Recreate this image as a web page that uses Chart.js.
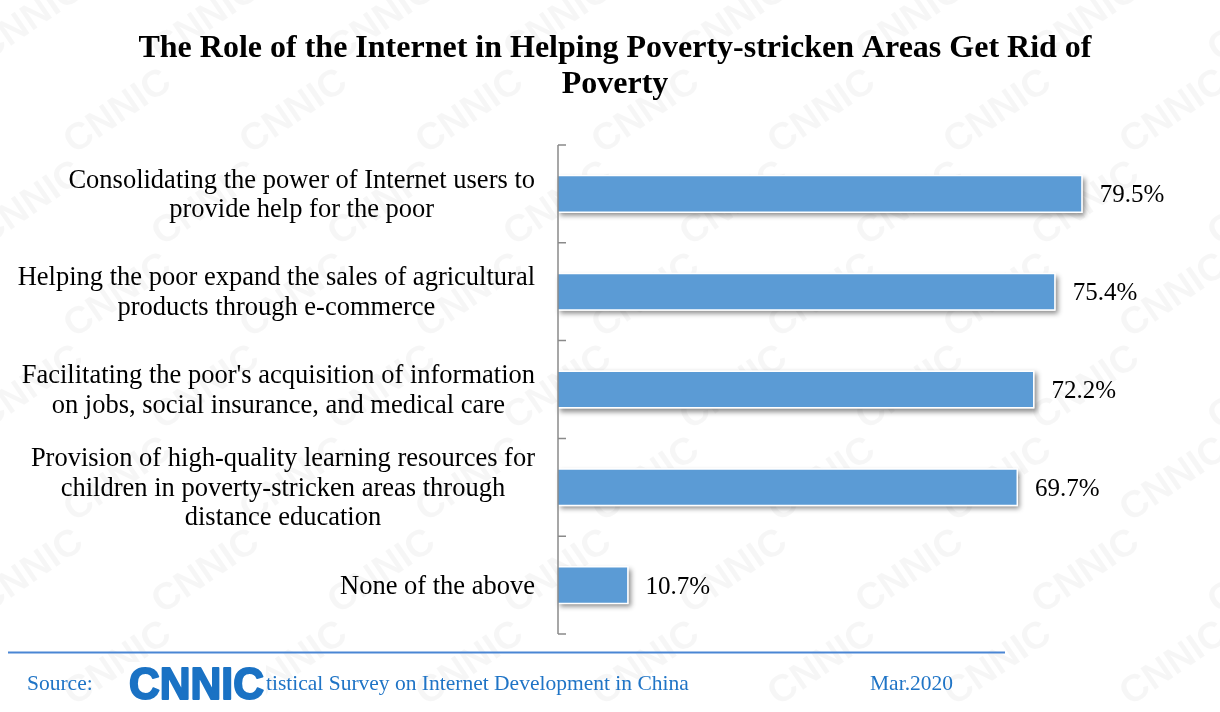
<!doctype html>
<html>

<head>
    <title>Internet and Poverty Alleviation</title>
    <script src="https://cdn.jsdelivr.net/npm/chart.js"></script>
    <style>
        html, body { margin: 0; padding: 0; background: #fff; }
    </style>
</head>

<body>
    <canvas id="roleChart" width="1220" height="712"></canvas>

    <script>
        var titleLines = ['The Role of the Internet in Helping Poverty-stricken Areas Get Rid of', 'Poverty'];
        var categories = [
            ['Consolidating the power of Internet users to', 'provide help for the poor'],
            ['Helping the poor expand the sales of agricultural', 'products through e-commerce'],
            ["Facilitating the poor's acquisition of information", 'on jobs, social insurance, and medical care'],
            ['Provision of high-quality learning resources for', 'children in poverty-stricken areas through', 'distance education'],
            ['None of the above']
        ];
        var shares = [79.5, 75.4, 72.2, 69.7, 10.7];
        var sourceLabel = 'Source:';
        var sourceText = 'Statistical Survey on Internet Development in China';
        var dateText = 'Mar.2020';

        var serif = '"Liberation Serif", "Times New Roman", serif';
        var sans = '"Liberation Sans", Arial, sans-serif';

        // faint diagonal CNNIC pattern behind everything
        var watermark = {
            id: 'watermark',
            beforeDraw: function (chart) {
                var ctx = chart.ctx;
                ctx.save();
                ctx.fillStyle = '#fff';
                ctx.fillRect(0, 0, chart.width, chart.height);
                ctx.font = 'bold 38px ' + sans;
                ctx.fillStyle = 'rgba(0,0,0,0.035)';
                ctx.textAlign = 'center';
                ctx.textBaseline = 'middle';
                var row = 0;
                for (var y = 20; y < chart.height + 60; y += 92) {
                    var shift = (row % 2) * 88;
                    for (var x = 30 + shift; x < chart.width + 80; x += 176) {
                        ctx.save();
                        ctx.translate(x, y);
                        ctx.rotate(-0.6);
                        ctx.fillText('CNNIC', 0, 0);
                        ctx.restore();
                    }
                    row++;
                }
                ctx.restore();
            }
        };

        // soft drop shadow under each bar, drawn before the bars themselves
        var barShadow = {
            id: 'barShadow',
            beforeDatasetsDraw: function (chart) {
                var ctx = chart.ctx;
                ctx.save();
                ctx.shadowColor = 'rgba(0,0,0,0.45)';
                ctx.shadowBlur = 5;
                ctx.shadowOffsetX = 2;
                ctx.shadowOffsetY = 3;
                ctx.fillStyle = '#fff';
                chart.getDatasetMeta(0).data.forEach(function (bar) {
                    ctx.fillRect(bar.base, bar.y - bar.height / 2, bar.x - bar.base, bar.height);
                });
                ctx.restore();
            }
        };

        var decorations = {
            id: 'decorations',
            afterDraw: function (chart) {
                var ctx = chart.ctx;
                var area = chart.chartArea;
                var yScale = chart.scales.y;
                ctx.save();

                // category axis with inward tick marks between bars
                ctx.strokeStyle = '#8a8a8a';
                ctx.lineWidth = 1.5;
                ctx.beginPath();
                ctx.moveTo(area.left, area.top);
                ctx.lineTo(area.left, area.bottom);
                var n = categories.length;
                for (var i = 0; i <= n; i++) {
                    var ty;
                    if (i === 0) ty = area.top;
                    else if (i === n) ty = area.bottom;
                    else ty = (yScale.getPixelForValue(i - 1) + yScale.getPixelForValue(i)) / 2;
                    ctx.moveTo(area.left, ty);
                    ctx.lineTo(area.left + 8, ty);
                }
                ctx.stroke();

                // category labels, each block centred on itself and right-aligned to the axis
                ctx.fillStyle = '#000';
                ctx.font = '26.5px ' + serif;
                ctx.textAlign = 'center';
                ctx.textBaseline = 'middle';
                var lineH = 29.5;
                categories.forEach(function (lines, idx) {
                    var maxW = 0;
                    lines.forEach(function (l) { maxW = Math.max(maxW, ctx.measureText(l).width); });
                    var cx = area.left - 23 - maxW / 2;
                    var yc = yScale.getPixelForValue(idx) + 1.5;
                    lines.forEach(function (l, j) {
                        ctx.fillText(l, cx, yc + (j - (lines.length - 1) / 2) * lineH);
                    });
                });

                // value labels
                ctx.font = '25px ' + serif;
                ctx.textAlign = 'left';
                chart.getDatasetMeta(0).data.forEach(function (bar, idx) {
                    ctx.fillText(shares[idx].toFixed(1) + '%', bar.x + 17, bar.y + 2);
                });

                // title
                ctx.font = 'bold 32px ' + serif;
                ctx.textAlign = 'center';
                ctx.fillText(titleLines[0], 615, 49);
                ctx.fillText(titleLines[1], 615, 85);

                // footer rule
                ctx.strokeStyle = '#4a86d4';
                ctx.lineWidth = 2;
                ctx.beginPath();
                ctx.moveTo(8, 652.5);
                ctx.lineTo(1005, 652.5);
                ctx.stroke();

                // footer text
                ctx.font = '21.5px ' + serif;
                ctx.fillStyle = '#1f74c6';
                ctx.textAlign = 'left';
                ctx.fillText(sourceLabel, 27, 684);
                var textStart = 266 - ctx.measureText('Sta').width;
                ctx.fillText(sourceText, textStart, 684);
                ctx.fillText(dateText, 870, 684);

                // logo over the start of the survey name
                ctx.fillStyle = '#fff';
                ctx.fillRect(124, 662, 142, 42);
                ctx.font = 'bold 45px ' + sans;
                ctx.textBaseline = 'alphabetic';
                var logoW = ctx.measureText('CNNIC').width;
                ctx.save();
                ctx.translate(129, 699);
                ctx.scale(135 / logoW, 1);
                ctx.fillStyle = '#1a72c4';
                ctx.strokeStyle = '#1a72c4';
                ctx.lineWidth = 2;
                ctx.lineJoin = 'round';
                ctx.fillText('CNNIC', 0, 0);
                ctx.strokeText('CNNIC', 0, 0);
                ctx.restore();

                ctx.restore();
            }
        };

        var roleChart = new Chart(document.getElementById('roleChart').getContext('2d'), {
            type: 'bar',
            data: {
                labels: categories,
                datasets: [{
                    data: shares,
                    backgroundColor: '#5b9bd5',
                    borderColor: '#ffffff',
                    borderWidth: 1.5,
                    barPercentage: 0.39,
                    categoryPercentage: 1
                }]
            },
            options: {
                indexAxis: 'y',
                responsive: false,
                animation: false,
                layout: {
                    padding: { top: 145, left: 558, right: 2, bottom: 78 }
                },
                scales: {
                    x: { display: false, min: 0, max: 100 },
                    y: { display: false }
                },
                plugins: {
                    legend: { display: false },
                    tooltip: { enabled: false },
                    title: { display: false }
                }
            },
            plugins: [watermark, barShadow, decorations]
        });
    </script>
</body>

</html>
